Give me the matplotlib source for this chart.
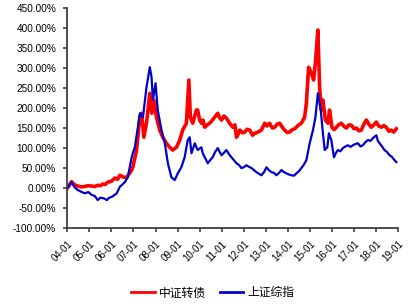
import numpy as np
import matplotlib.pyplot as plt
from matplotlib.ticker import FuncFormatter

# decimal year, percent
red_t = [2004.00, 2004.10, 2004.19, 2004.34, 2004.48, 2004.62, 2004.79, 2004.95, 2005.11,
         2005.25, 2005.38, 2005.50, 2005.61, 2005.72, 2005.84, 2006.00,
         2006.15, 2006.28, 2006.38, 2006.56, 2006.70, 2006.92, 2006.97, 2007.14, 2007.29, 2007.37,
         2007.47, 2007.59, 2007.74, 2007.83, 2007.92, 2008.04, 2008.19, 2008.33, 2008.49,
         2008.64, 2008.78, 2008.95, 2009.10, 2009.23, 2009.40, 2009.51, 2009.58, 2009.69,
         2009.85, 2009.91, 2010.00, 2010.08, 2010.15, 2010.23, 2010.35, 2010.45, 2010.58,
         2010.68, 2010.82, 2010.90, 2010.99, 2011.10,
         2011.21, 2011.36, 2011.50, 2011.60, 2011.67, 2011.75, 2011.82, 2011.95, 2012.05,
         2012.15, 2012.27, 2012.40, 2012.50, 2012.65, 2012.80,
         2012.95, 2013.05, 2013.17, 2013.30, 2013.40, 2013.52, 2013.63, 2013.75, 2013.85,
         2013.97, 2014.08, 2014.20, 2014.31, 2014.45, 2014.61, 2014.76,
         2014.84, 2014.94, 2015.07, 2015.17, 2015.26, 2015.36, 2015.44, 2015.52, 2015.59,
         2015.70, 2015.82, 2015.89, 2016.00, 2016.10, 2016.20, 2016.30, 2016.42, 2016.55,
         2016.65, 2016.77, 2016.88, 2017.00, 2017.10, 2017.22,
         2017.33, 2017.45, 2017.56, 2017.67, 2017.78, 2017.90, 2018.01, 2018.12, 2018.24,
         2018.35, 2018.46, 2018.58, 2018.69, 2018.80, 2018.92]
red_v = [0, 8, 16, 8, 5, 3, 4, 6, 5,
         4, 7, 6, 10, 9, 15, 17,
         25, 22, 32, 27, 27, 45, 52, 95, 177, 187,
         127, 162, 237, 187, 220, 177, 145, 127, 112,
         102, 95, 102, 120, 145, 162, 270, 177, 162,
         195, 195, 170, 162, 170, 152, 158, 162, 170,
         177, 187, 176, 170, 180,
         175, 162, 152, 158, 127, 135, 145, 138, 140,
         147, 145, 132, 137, 140, 145,
         162, 155, 162, 150, 152, 160, 162, 152, 145,
         139, 140, 146, 148, 156, 162, 177,
         212, 302, 287, 270, 320, 395, 252, 195, 220,
         170, 162, 195, 152, 146, 152, 158, 162, 154,
         150, 158, 157, 148, 150, 143,
         145, 160, 170, 160, 152, 158, 165, 155, 152,
         156, 152, 142, 145, 140, 148]

blue_t = [2004.00, 2004.10, 2004.19, 2004.33, 2004.48, 2004.62, 2004.79, 2004.95, 2005.11,
          2005.25, 2005.38, 2005.50, 2005.61, 2005.70, 2005.79, 2005.90, 2006.02,
          2006.24, 2006.38, 2006.61, 2006.74, 2006.92, 2006.97, 2007.06, 2007.20, 2007.29,
          2007.43, 2007.59, 2007.74, 2007.82, 2007.88, 2008.00, 2008.10, 2008.27, 2008.42,
          2008.56, 2008.72, 2008.87, 2009.01, 2009.17, 2009.32, 2009.46, 2009.55, 2009.63,
          2009.78, 2009.91, 2010.08, 2010.14, 2010.25, 2010.37, 2010.48, 2010.59, 2010.70,
          2010.82, 2010.99, 2011.10, 2011.21, 2011.33,
          2011.44, 2011.55, 2011.67, 2011.78, 2011.89, 2012.00, 2012.12, 2012.24, 2012.35,
          2012.46, 2012.57, 2012.68, 2012.80, 2012.92, 2013.03, 2013.14, 2013.25,
          2013.37, 2013.48, 2013.60, 2013.71, 2013.82, 2013.93, 2014.05, 2014.16, 2014.28,
          2014.39, 2014.50, 2014.61, 2014.72, 2014.84, 2014.99, 2015.14,
          2015.25, 2015.36, 2015.49, 2015.59, 2015.67, 2015.79, 2015.86, 2015.97, 2016.09,
          2016.18, 2016.27, 2016.38, 2016.50, 2016.61, 2016.72, 2016.84, 2016.95, 2017.06,
          2017.18, 2017.29, 2017.40, 2017.52, 2017.63, 2017.75, 2017.86, 2018.01,
          2018.08, 2018.16, 2018.27, 2018.38, 2018.50, 2018.61, 2018.72, 2018.83, 2018.92]
blue_v = [0, 8, 15, 2, -5, -9, -13, -10, -17,
          -20, -30, -24, -25, -27, -30, -24, -22,
          -13, 3, 15, 27, 77, 87, 102, 152, 187,
          177, 252, 302, 277, 220, 262, 195, 145, 112,
          62, 27, 20, 37, 52, 77, 120, 127, 87,
          112, 95, 102, 87, 75, 62, 70, 77, 90,
          100, 82, 88, 95, 85,
          77, 70, 62, 58, 50, 52, 57, 53, 50,
          45, 40, 36, 32, 40, 52, 45, 40,
          38, 32, 38, 45, 40, 37, 34, 32, 31,
          37, 42, 50, 58, 70, 112, 145,
          177, 237, 195, 137, 95, 102, 137, 120, 77,
          88, 95, 92, 100, 104, 107, 103, 107, 110,
          112, 104, 107, 115, 120, 118, 125, 132,
          118, 112, 104, 95, 90, 82, 78, 70, 65]

years = list(range(2004, 2020))
year_labels = ['%02d-01' % (y % 100) for y in years]

plt.rcParams['font.family'] = ['Liberation Sans', 'Noto Sans CJK SC', 'DejaVu Sans']

fig = plt.figure(figsize=(4.13, 3.07), dpi=100)
ax = fig.add_axes([0.163, 0.257, 0.801, 0.717])

ax.plot(red_t, red_v, color='#ff0000', lw=2.6, label='中证转债')
ax.plot(blue_t, blue_v, color='#0000cc', lw=1.6, label='上证综指')

ax.set_xlim(2004, 2019)
ax.set_ylim(-100, 450)
ax.set_xticks(years)
ax.set_xticklabels(year_labels, rotation=45, ha='right', rotation_mode='anchor')
ax.set_yticks(np.arange(-100, 451, 50))
ax.yaxis.set_major_formatter(FuncFormatter(lambda v, p: '%.2f%%' % v))

for s in ['top', 'right']:
    ax.spines[s].set_visible(False)
for s in ['left', 'bottom']:
    ax.spines[s].set_color('#404040')
    ax.spines[s].set_linewidth(1.3)
ax.tick_params(direction='out', length=3, width=1.2, color='#404040')
ax.tick_params(axis='y', pad=5, labelsize=7.2)
ax.tick_params(axis='x', pad=5, labelsize=7.0)
for lab in ax.get_xticklabels() + ax.get_yticklabels():
    lab.set_fontfamily('Liberation Sans')

leg = fig.legend(loc='lower center', bbox_to_anchor=(0.515, -0.01), ncol=2, frameon=False,
                 prop={'family': ['Noto Sans CJK SC'], 'size': 8.5},
                 handlelength=2.0, columnspacing=1.2, handletextpad=0.3)
for line in leg.get_lines():
    line.set_linewidth(2)

fig.savefig('out.png', dpi=100)
